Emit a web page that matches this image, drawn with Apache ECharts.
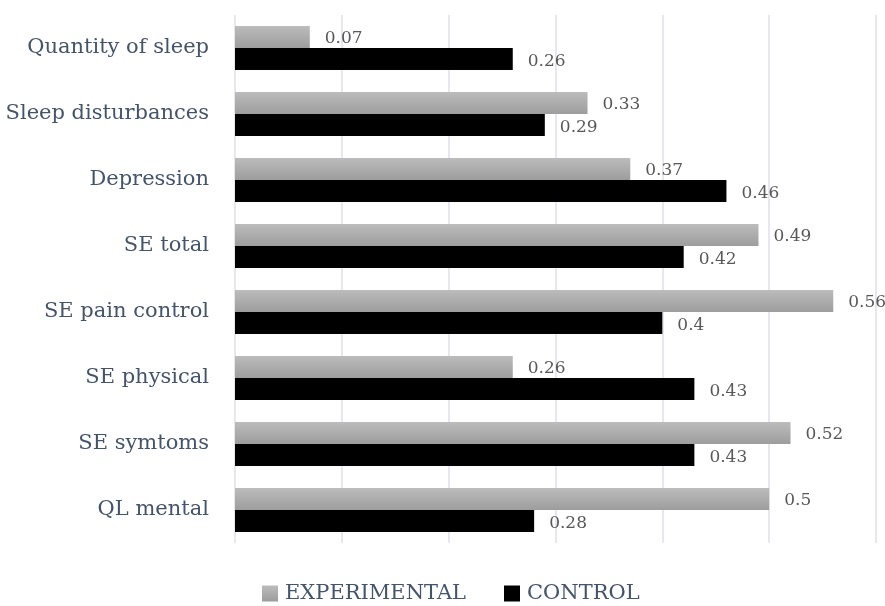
<!DOCTYPE html>
<html><head><meta charset="utf-8">
<script src="https://cdn.jsdelivr.net/npm/echarts@6/dist/echarts.min.js"></script>
<style>html,body{margin:0;padding:0;background:#fff}#c{width:885px;height:606px}</style>
</head><body><div id="c"></div>
<script>
const categories = ["Quantity of sleep","Sleep disturbances","Depression","SE total","SE pain control","SE physical","SE symtoms","QL mental"];
const experimental = [0.07,0.33,0.37,0.49,0.56,0.26,0.52,0.5];
const control = [0.26,0.29,0.46,0.42,0.4,0.43,0.43,0.28];
const seriesNames = ["EXPERIMENTAL","CONTROL"];
const xTicks = [0,0.1,0.2,0.3,0.4,0.5,0.6];

const FONT = "DejaVu Serif";
const grayGrad = new echarts.graphic.LinearGradient(0,0,0,1,[{offset:0,color:'#bcbcbc'},{offset:1,color:'#9d9d9d'}]);
const chart = echarts.init(document.getElementById('c'));
chart.setOption({
  animation:false,
  textStyle:{fontFamily:FONT},
  grid:{left:235,right:9,top:15,bottom:63,containLabel:false},
  legend:{
    top:583,left:262,itemWidth:16,itemHeight:16,itemGap:38,padding:0,
    icon:'rect',
    textStyle:{fontFamily:FONT,fontSize:21,color:'#44546A',padding:[0,0,0,2]},
    data:[{name:seriesNames[0],itemStyle:{color:grayGrad}},{name:seriesNames[1]}]
  },
  xAxis:{
    type:'value',min:xTicks[0],max:xTicks[xTicks.length-1],interval:0.1,
    axisLabel:{show:false},axisTick:{show:false},axisLine:{show:false},
    splitLine:{show:true,lineStyle:{color:'#dde1e8',width:1.5}}
  },
  yAxis:{
    type:'category',data:categories,inverse:true,
    axisTick:{show:false},
    axisLine:{show:false},
    axisLabel:{fontFamily:FONT,fontSize:21,color:'#44546A',margin:26}
  },
  series:[
    {name:seriesNames[0],type:'bar',data:experimental,barWidth:22,barGap:'0%',
     itemStyle:{color:grayGrad},
     label:{show:true,position:'right',distance:15,offset:[0,2],fontFamily:FONT,fontSize:17,color:'#595959'}},
    {name:seriesNames[1],type:'bar',data:control,barWidth:22,barGap:'0%',
     itemStyle:{color:'#000000'},
     label:{show:true,position:'right',distance:15,offset:[0,3],fontFamily:FONT,fontSize:17,color:'#595959'}}
  ]
});
</script></body></html>
